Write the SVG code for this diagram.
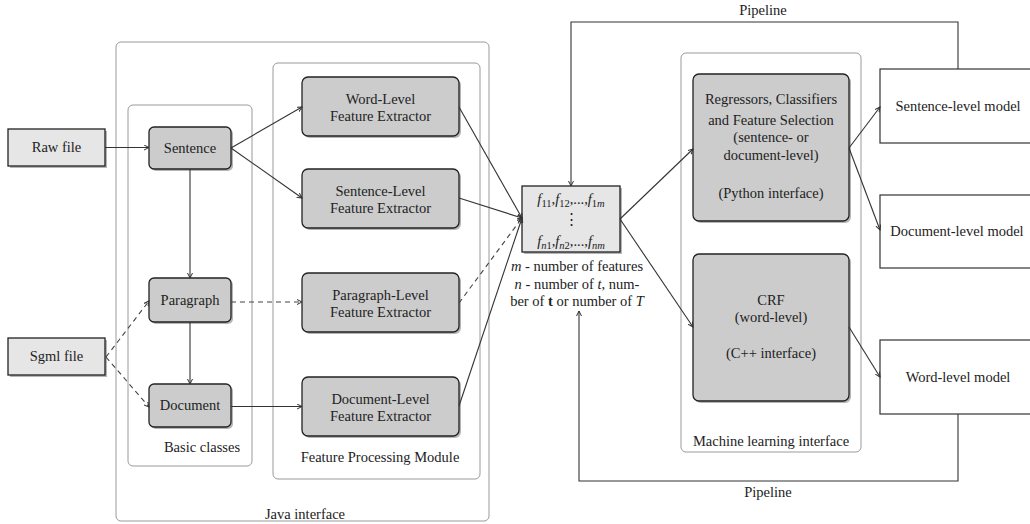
<svg xmlns="http://www.w3.org/2000/svg" width="1030" height="524" viewBox="0 0 1030 524" font-family="'Liberation Serif', serif">
<style>
text{font-family:'Liberation Serif',serif;font-size:14.5px;fill:#222;text-anchor:middle}
.cont{fill:none;stroke:#9a9a9a;stroke-width:1}
.node{fill:#cccccc;stroke:#222;stroke-width:1.3}
.file{fill:#e6e6e6;stroke:#222;stroke-width:1.3}
.model{fill:#fff;stroke:#333;stroke-width:1.2}
.sh{fill:#b5b5b5;stroke:none}
.c{fill:none;stroke:#333;stroke-width:1.1}
.d{fill:none;stroke:#444;stroke-width:1.1;stroke-dasharray:5,4}
.m{font-style:italic}
</style>
<defs>
<marker id="ah" markerWidth="6" markerHeight="6" refX="5" refY="3" orient="auto" markerUnits="userSpaceOnUse">
<path d="M0,0.5 L5,3 L0,5.5" fill="none" stroke="#333" stroke-width="1"/>
</marker>
</defs>

<g id="java-interface">
<rect class="cont" x="116" y="42" width="373" height="479" rx="5"/>
<text x="305" y="519">Java interface</text>
</g>
<g id="feature-processing-module">
<rect class="cont" x="273" y="63" width="207" height="416" rx="5"/>
<text x="380" y="462">Feature Processing Module</text>
</g>
<g id="basic-classes">
<rect class="cont" x="128" y="105" width="124" height="361" rx="5"/>
<text x="202" y="452">Basic classes</text>
</g>
<g id="ml-interface">
<rect class="cont" x="681" y="53" width="180" height="399" rx="5"/>
<text x="771" y="446">Machine learning interface</text>
</g>

<g id="raw-file">
<rect class="sh" x="10" y="131" width="97" height="37"/>
<rect class="file" x="8" y="129" width="97" height="37"/>
<text x="56.5" y="152">Raw file</text>
</g>
<g id="sgml-file">
<rect class="sh" x="10" y="340" width="97" height="37"/>
<rect class="file" x="8" y="338" width="97" height="37"/>
<text x="56.5" y="361">Sgml file</text>
</g>

<g id="sentence">
<rect class="sh" x="151" y="129" width="82" height="42" rx="5"/>
<rect class="node" x="149" y="127" width="82" height="42" rx="5"/>
<text x="190" y="153">Sentence</text>
</g>
<g id="paragraph">
<rect class="sh" x="151" y="280" width="82" height="44" rx="5"/>
<rect class="node" x="149" y="278" width="82" height="44" rx="5"/>
<text x="190" y="305">Paragraph</text>
</g>
<g id="document">
<rect class="sh" x="151" y="386" width="82" height="43" rx="5"/>
<rect class="node" x="149" y="384" width="82" height="43" rx="5"/>
<text x="190" y="410">Document</text>
</g>

<g id="word-fe">
<rect class="sh" x="304" y="79" width="157" height="59" rx="6"/>
<rect class="node" x="302" y="77" width="157" height="59" rx="6"/>
<text x="380.5" y="104">Word-Level</text>
<text x="380.5" y="121">Feature Extractor</text>
</g>
<g id="sentence-fe">
<rect class="sh" x="304" y="171" width="157" height="59" rx="6"/>
<rect class="node" x="302" y="169" width="157" height="59" rx="6"/>
<text x="380.5" y="196">Sentence-Level</text>
<text x="380.5" y="213">Feature Extractor</text>
</g>
<g id="paragraph-fe">
<rect class="sh" x="304" y="275" width="157" height="59" rx="6"/>
<rect class="node" x="302" y="273" width="157" height="59" rx="6"/>
<text x="380.5" y="300">Paragraph-Level</text>
<text x="380.5" y="317">Feature Extractor</text>
</g>
<g id="document-fe">
<rect class="sh" x="304" y="379" width="157" height="59" rx="6"/>
<rect class="node" x="302" y="377" width="157" height="59" rx="6"/>
<text x="380.5" y="404">Document-Level</text>
<text x="380.5" y="421">Feature Extractor</text>
</g>

<g id="feature-matrix">
<rect class="sh" x="524" y="188" width="98" height="66"/>
<rect class="file" x="522" y="186" width="98" height="66"/>
<text x="571" y="204" font-size="15"><tspan class="m">f</tspan><tspan font-size="10.5" dy="3">11</tspan><tspan dy="-3">,</tspan><tspan class="m">f</tspan><tspan font-size="10.5" dy="3">12</tspan><tspan dy="-3">,...,</tspan><tspan class="m">f</tspan><tspan font-size="10.5" dy="3">1</tspan><tspan font-size="10.5" class="m">m</tspan></text>
<text x="571" y="224" font-size="14">⋮</text>
<text x="571" y="246" font-size="15"><tspan class="m">f</tspan><tspan font-size="10.5" class="m" dy="3">n</tspan><tspan font-size="10.5">1</tspan><tspan dy="-3">,</tspan><tspan class="m">f</tspan><tspan font-size="10.5" class="m" dy="3">n</tspan><tspan font-size="10.5">2</tspan><tspan dy="-3">,...,</tspan><tspan class="m">f</tspan><tspan font-size="10.5" class="m" dy="3">nm</tspan></text>
<text x="577" y="271"><tspan class="m">m</tspan> - number of features</text>
<text x="577" y="289"><tspan class="m">n</tspan> - number of <tspan class="m">t</tspan>, num-</text>
<text x="577" y="306">ber of <tspan font-weight="bold">t</tspan> or number of <tspan class="m">T</tspan></text>
</g>

<g id="regressors">
<rect class="sh" x="695" y="76" width="156" height="147" rx="6"/>
<rect class="node" x="693" y="74" width="156" height="147" rx="6"/>
<text x="771" y="104">Regressors, Classifiers</text>
<text x="771" y="125">and Feature Selection</text>
<text x="771" y="142">(sentence- or</text>
<text x="771" y="160">document-level)</text>
<text x="771" y="198">(Python interface)</text>
</g>
<g id="crf">
<rect class="sh" x="695" y="256" width="156" height="147" rx="6"/>
<rect class="node" x="693" y="254" width="156" height="147" rx="6"/>
<text x="771" y="305">CRF</text>
<text x="771" y="322">(word-level)</text>
<text x="771" y="358">(C++ interface)</text>
</g>

<g id="sentence-model">
<rect class="model" x="880" y="69" width="160" height="74"/>
<text x="958" y="111">Sentence-level model</text>
</g>
<g id="document-model">
<rect class="model" x="880" y="195" width="160" height="73"/>
<text x="957" y="236">Document-level model</text>
</g>
<g id="word-model">
<rect class="model" x="880" y="340" width="160" height="74"/>
<text x="958" y="382">Word-level model</text>
</g>

<g id="connectors">
<line class="c" x1="105" y1="147.5" x2="149" y2="147.5" marker-end="url(#ah)"/>
<line class="c" x1="190" y1="169" x2="190" y2="278" marker-end="url(#ah)"/>
<line class="c" x1="190" y1="322" x2="190" y2="384" marker-end="url(#ah)"/>
<line class="d" x1="106" y1="357" x2="149" y2="301" marker-end="url(#ah)"/>
<line class="d" x1="106" y1="357" x2="149" y2="407" marker-end="url(#ah)"/>
<line class="c" x1="231" y1="148" x2="302" y2="107" marker-end="url(#ah)"/>
<line class="c" x1="231" y1="148" x2="302" y2="198" marker-end="url(#ah)"/>
<line class="d" x1="231" y1="302" x2="302" y2="302" marker-end="url(#ah)"/>
<line class="c" x1="231" y1="406.5" x2="302" y2="406.5" marker-end="url(#ah)"/>
<line class="c" x1="459" y1="107" x2="522" y2="218" marker-end="url(#ah)"/>
<line class="c" x1="459" y1="198" x2="522" y2="218" marker-end="url(#ah)"/>
<line class="d" x1="459" y1="303" x2="522" y2="218" marker-end="url(#ah)"/>
<line class="c" x1="459" y1="406" x2="522" y2="218" marker-end="url(#ah)"/>
<line class="c" x1="620" y1="219" x2="693" y2="149" marker-end="url(#ah)"/>
<line class="c" x1="620" y1="219" x2="693" y2="327" marker-end="url(#ah)"/>
<line class="c" x1="849" y1="148" x2="880" y2="107" marker-end="url(#ah)"/>
<line class="c" x1="849" y1="148" x2="880" y2="230" marker-end="url(#ah)"/>
<line class="c" x1="849" y1="327" x2="880" y2="377" marker-end="url(#ah)"/>
<polyline class="c" points="958,69 958,22 571,22 571,186" marker-end="url(#ah)"/>
<polyline class="c" points="958,414 958,481 579,481 579,311" marker-end="url(#ah)"/>
<text x="763" y="15">Pipeline</text>
<text x="768" y="497">Pipeline</text>
</g>
</svg>
